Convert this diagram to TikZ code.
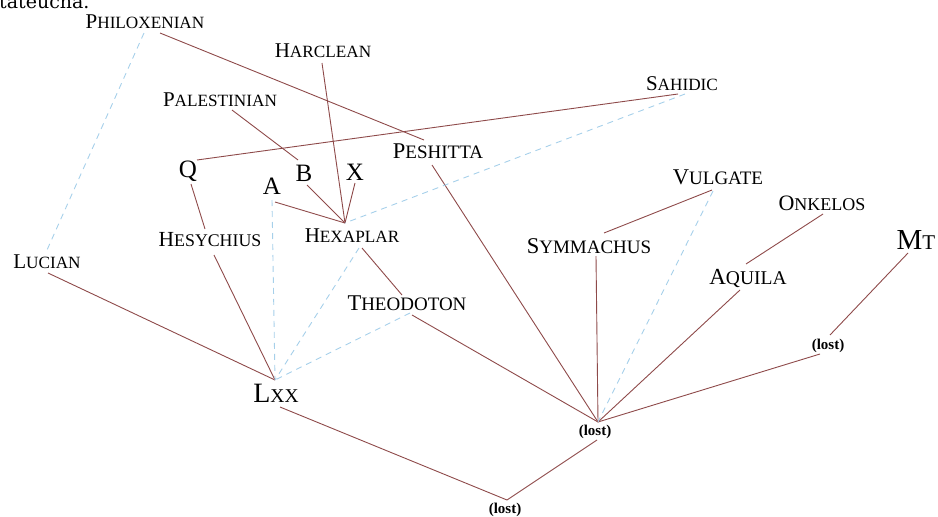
\documentclass[tikz,border=0pt]{standalone}
\usepackage{fontspec}
\setmainfont{Liberation Serif}
\newfontfamily\headfont{DejaVu Serif}
\definecolor{stem}{HTML}{8E4A4A}
\definecolor{link}{HTML}{A6D0EA}
% capital followed by reduced capitals
\newcommand\twosize[4]{{\fontsize{#1}{#1}\selectfont #3}{\fontsize{#2}{#2}\selectfont #4}}
\newcommand\scl[2]{\twosize{21}{17.2}{#1}{#2}}
\newcommand\scm[2]{\twosize{22.5}{19}{#1}{#2}}
\tikzset{
  rel/.style={draw=stem, line width=0.9pt},
  hint/.style={draw=link, line width=0.9pt, dash pattern=on 6pt off 5pt},
  lbl/.style={inner sep=0pt, anchor=base, text=black},
  big/.style={lbl, font=\fontsize{25}{25}\selectfont},
  lost/.style={lbl, font=\fontsize{15}{15}\selectfont\bfseries},
}
\begin{document}
\begin{tikzpicture}[x=1pt,y=-1pt]
\useasboundingbox (0,0) rectangle (938,517);
\begin{scope}
  \clip (0,0) rectangle (938,517);
  \node[lbl, anchor=base west] (head) at (-1,8.5) {\headfont\fontsize{19}{19}\selectfont tateucha.};
\end{scope}

% witnesses
\node[lbl] (philox) at (145,28)  {\scl{P}{HILOXENIAN}};
\node[lbl] (harcl)  at (323,57)  {\scl{H}{ARCLEAN}};
\node[lbl] (palest) at (220,106) {\scl{P}{ALESTINIAN}};
\node[lbl] (sahid)  at (682,90)  {\scl{S}{AHIDIC}};
\node[lbl] (pesh)   at (438,158) {\scm{P}{ESHITTA}};
\node[big] (q)      at (188,177) {Q};
\node[big] (a)      at (272,194) {A};
\node[big] (b)      at (304,181) {B};
\node[big] (x)      at (355,180) {X};
\node[lbl] (hexa)   at (352,242) {\scl{H}{EXAPLAR}};
\node[lbl] (hesy)   at (210,246) {\twosize{21.5}{17.8}{H}{ESYCHIUS}};
\node[lbl] (luc)    at (47,268)  {\scl{L}{UCIAN}};
\node[lbl] (theo)   at (407,310) {\scm{T}{HEODOTON}};
\node[lbl] (vulg)   at (718,184) {\scm{V}{ULGATE}};
\node[lbl] (symm)   at (589,253) {\scm{S}{YMMACHUS}};
\node[lbl] (onk)    at (822,210) {\twosize{22}{18}{O}{NKELOS}};
\node[lbl] (aqu)    at (748,284) {\twosize{23}{19.5}{A}{QUILA}};
\node[lbl] (mt)     at (916,249) {\twosize{29}{21}{M}{T}};
\node[lbl] (lxx)    at (276,402) {\twosize{28}{19.5}{L}{XX}};
\node[lost] (lostm) at (595,435) {(lost)};
\node[lost] (lostr) at (828,349) {(lost)};
\node[lost] (lostb) at (505,513) {(lost)};

% attachment points
\coordinate (philB) at (160,33);
\coordinate (philD) at (144,33);
\coordinate (peshT) at (424,140);
\coordinate (peshB) at (432,165);
\coordinate (harB)  at (322,63);
\coordinate (hexT)  at (345,223);
\coordinate (hexB)  at (362,248);
\coordinate (hexD)  at (359,248);
\coordinate (palB)  at (232,110);
\coordinate (bT)    at (298,160);
\coordinate (bB)    at (307,185);
\coordinate (xB)    at (355,183);
\coordinate (aR)    at (275,202);
\coordinate (aB)    at (272,200);
\coordinate (sahB)  at (678,94);
\coordinate (sahD)  at (685,94);
\coordinate (qR)    at (197,160);
\coordinate (qB)    at (191,184);
\coordinate (hesT)  at (205,229);
\coordinate (hesB)  at (214,255);
\coordinate (lucT)  at (47,250);
\coordinate (lucB)  at (48,273);
\coordinate (lxxT)  at (275,380);
\coordinate (lxxB)  at (280,407);
\coordinate (theT)  at (402,295);
\coordinate (theB)  at (412,315);
\coordinate (theD)  at (410,313);
\coordinate (lostmT) at (598,422);
\coordinate (lostbT) at (507,500);
\coordinate (lostmB) at (597,440);
\coordinate (symB)  at (596,256);
\coordinate (symR)  at (604,233);
\coordinate (vulL)  at (712,190);
\coordinate (vulD)  at (713,191);
\coordinate (onkB)  at (823,214);
\coordinate (aquT)  at (746,264);
\coordinate (aquB)  at (740,290);
\coordinate (mtB)   at (908,253);
\coordinate (lostrT) at (830,335);
\coordinate (lostrL) at (820,354);

% dependent lines
\draw[rel] (philB) -- (peshT);
\draw[rel] (harB) -- (hexT);
\draw[rel] (palB) -- (bT);
\draw[rel] (sahB) -- (qR);
\draw[rel] (peshB) -- (lostmT);
\draw[rel] (qB) -- (hesT);
\draw[rel] (hesB) -- (lxxT);
\draw[rel] (aR) -- (hexT);
\draw[rel] (bB) -- (hexT);
\draw[rel] (xB) -- (hexT);
\draw[rel] (hexB) -- (theT);
\draw[rel] (theB) -- (lostmT);
\draw[rel] (lucB) -- (lxxT);
\draw[rel] (lxxB) -- (lostbT);
\draw[rel] (lostbT) -- (lostmB);
\draw[rel] (symB) -- (lostmT);
\draw[rel] (symR) -- (vulL);
\draw[rel] (onkB) -- (aquT);
\draw[rel] (aquB) -- (lostmT);
\draw[rel] (mtB) -- (lostrT);
\draw[rel] (lostrL) -- (lostmT);

% minor influences
\draw[hint] (philD) -- (lucT);
\draw[hint] (sahD) -- (hexT);
\draw[hint] (aB) -- (lxxT);
\draw[hint] (hexD) -- (lxxT);
\draw[hint] (theD) -- (lxxT);
\draw[hint] (vulD) -- (lostmT);
\end{tikzpicture}
\end{document}
